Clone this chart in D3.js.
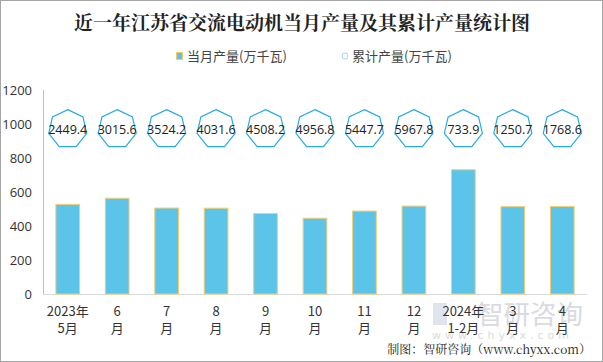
<!DOCTYPE html>
<html>
<head>
<meta charset="utf-8">
<script src="https://cdn.jsdelivr.net/npm/d3@7"></script>
<style>
  body { margin: 0; background: #fff; }
  svg { display: block; }
</style>
</head>
<body>
<div id="chart"></div>
<script>
const width = 603;
const height = 362;

// data
const months = ["2023年\n5月", "6\n月", "7\n月", "8\n月", "9\n月", "10\n月", "11\n月", "12\n月", "2024年\n1-2月", "3\n月", "4\n月"];
const monthly = [530.0, 566.2, 508.6, 507.4, 476.6, 448.6, 490.9, 520.1, 733.9, 516.8, 517.9];
const cumulative = [2449.4, 3015.6, 3524.2, 4031.6, 4508.2, 4956.8, 5447.7, 5967.8, 733.9, 1250.7, 1768.6];
const yTicks = [0, 200, 400, 600, 800, 1000, 1200];
const markerLevel = 970; // cumulative labels are drawn on a fixed row

const margin = { top: 90, right: 16, bottom: 68, left: 43 };

const svg = d3.select("#chart")
    .append("svg")
    .attr("width", width)
    .attr("height", height);

// outer frame
svg.append("rect")
    .attr("x", 0.5).attr("y", 0.5)
    .attr("width", width - 1).attr("height", height - 1)
    .attr("fill", "#fff")
    .attr("stroke", "#a6a6a6");

const x = d3.scaleBand()
    .domain(months)
    .range([margin.left, width - margin.right])
    .paddingInner(0.5)
    .paddingOuter(0.25);

const y = d3.scaleLinear()
    .domain([0, 1200])
    .range([height - margin.bottom, margin.top]);

// title
svg.append("text")
    .attr("x", 302).attr("y", 30)
    .attr("text-anchor", "middle")
    .style("font-family", "'Noto Serif CJK SC', 'Noto Sans CJK SC', serif")
    .style("font-weight", "bold")
    .style("font-size", "19px")
    .attr("fill", "#222")
    .text("近一年江苏省交流电动机当月产量及其累计产量统计图");

// legend
const legend = svg.append("g").style("font-family", "'Noto Sans CJK SC', sans-serif").style("font-size", "13px");
legend.append("rect")
    .attr("x", 176.5).attr("y", 52.5).attr("width", 6).attr("height", 7)
    .attr("fill", "#5bc4e8").attr("stroke", "#f5c96b");
legend.append("text").attr("x", 187).attr("y", 60.5).attr("fill", "#444").text("当月产量(万千瓦)");
legend.append("circle")
    .attr("cx", 345).attr("cy", 56).attr("r", 3)
    .attr("fill", "none").attr("stroke", "#9fd9f2");
legend.append("text").attr("x", 352).attr("y", 60.5).attr("fill", "#444").text("累计产量(万千瓦)");

// watermark
const wm = svg.append("g").attr("fill", "#c9ccd3").attr("opacity", 0.7);
wm.append("rect").attr("x", 433).attr("y", 303).attr("width", 14).attr("height", 22).attr("fill", "#d4d9e4");
wm.append("text")
    .attr("x", 477).attr("y", 324)
    .style("font-family", "'Noto Sans CJK SC', sans-serif")
    .style("font-size", "26.5px")
    .text("智研咨询");
wm.append("text")
    .attr("x", 432).attr("y", 339)
    .style("font-family", "'DejaVu Sans', sans-serif")
    .style("font-size", "11px")
    .style("letter-spacing", "4px")
    .text("www.chyxx.com");

// axes lines
svg.append("line")
    .attr("x1", margin.left + 0.5).attr("x2", margin.left + 0.5)
    .attr("y1", y(1200)).attr("y2", y(0))
    .attr("stroke", "#bfbfbf");
svg.append("line")
    .attr("x1", margin.left).attr("x2", width - margin.right)
    .attr("y1", y(0) + 0.5).attr("y2", y(0) + 0.5)
    .attr("stroke", "#d9d9d9");

// y tick labels
svg.append("g")
    .selectAll("text")
    .data(yTicks)
    .join("text")
    .attr("x", 32)
    .attr("y", d => y(d))
    .attr("dy", "0.35em")
    .attr("text-anchor", "end")
    .style("font-family", "'Open Sans', 'DejaVu Sans', sans-serif")
    .style("font-size", "13px")
    .attr("fill", "#333")
    .text(d => d);

// bars
svg.append("g")
    .selectAll("rect")
    .data(months)
    .join("rect")
    .attr("x", d => x(d) + 0.5)
    .attr("y", (d, i) => y(monthly[i]) + 0.5)
    .attr("width", x.bandwidth() - 1)
    .attr("height", (d, i) => y(0) - y(monthly[i]) - 0.5)
    .attr("fill", "#5bc4e8")
    .attr("stroke", "#f7cd70")
    .attr("stroke-width", 1);

// heptagon markers with cumulative labels
const R = 19.5;
const hept = d3.range(7).map(k => {
    const a = -Math.PI / 2 + k * 2 * Math.PI / 7;
    return [R * Math.cos(a), R * Math.sin(a)];
});
const markers = svg.append("g")
    .selectAll("g")
    .data(months)
    .join("g")
    .attr("transform", d => `translate(${x(d) + x.bandwidth() / 2},${y(markerLevel)})`);
markers.append("polygon")
    .attr("points", hept.map(p => p.join(",")).join(" "))
    .attr("fill", "#fff")
    .attr("stroke", "#29abe2")
    .attr("stroke-width", 1.2);
markers.append("text")
    .attr("text-anchor", "middle")
    .attr("dy", "0.38em")
    .style("font-family", "'Open Sans', 'DejaVu Sans', sans-serif")
    .style("font-size", "12.5px")
    .attr("fill", "#222")
    .text((d, i) => cumulative[i].toFixed(1));

// x labels (two lines)
const xl = svg.append("g")
    .selectAll("text")
    .data(months)
    .join("text")
    .attr("text-anchor", "middle")
    .style("font-family", "'Noto Sans CJK SC', sans-serif")
    .style("font-size", "13px")
    .attr("fill", "#333");
xl.each(function (d) {
    const parts = d.split("\n");
    const cx = x(d) + x.bandwidth() / 2;
    d3.select(this).selectAll("tspan")
        .data(parts)
        .join("tspan")
        .attr("x", cx)
        .attr("y", (p, j) => 316 + j * 17)
        .text(p => p);
});

// source
svg.append("text")
    .attr("x", 591).attr("y", 354)
    .attr("text-anchor", "end")
    .style("font-family", "'Noto Serif CJK SC', 'Noto Sans CJK SC', serif")
    .style("font-size", "12px")
    .attr("fill", "#222")
    .text("制图：智研咨询（www.chyxx.com）");
</script>
</body>
</html>
